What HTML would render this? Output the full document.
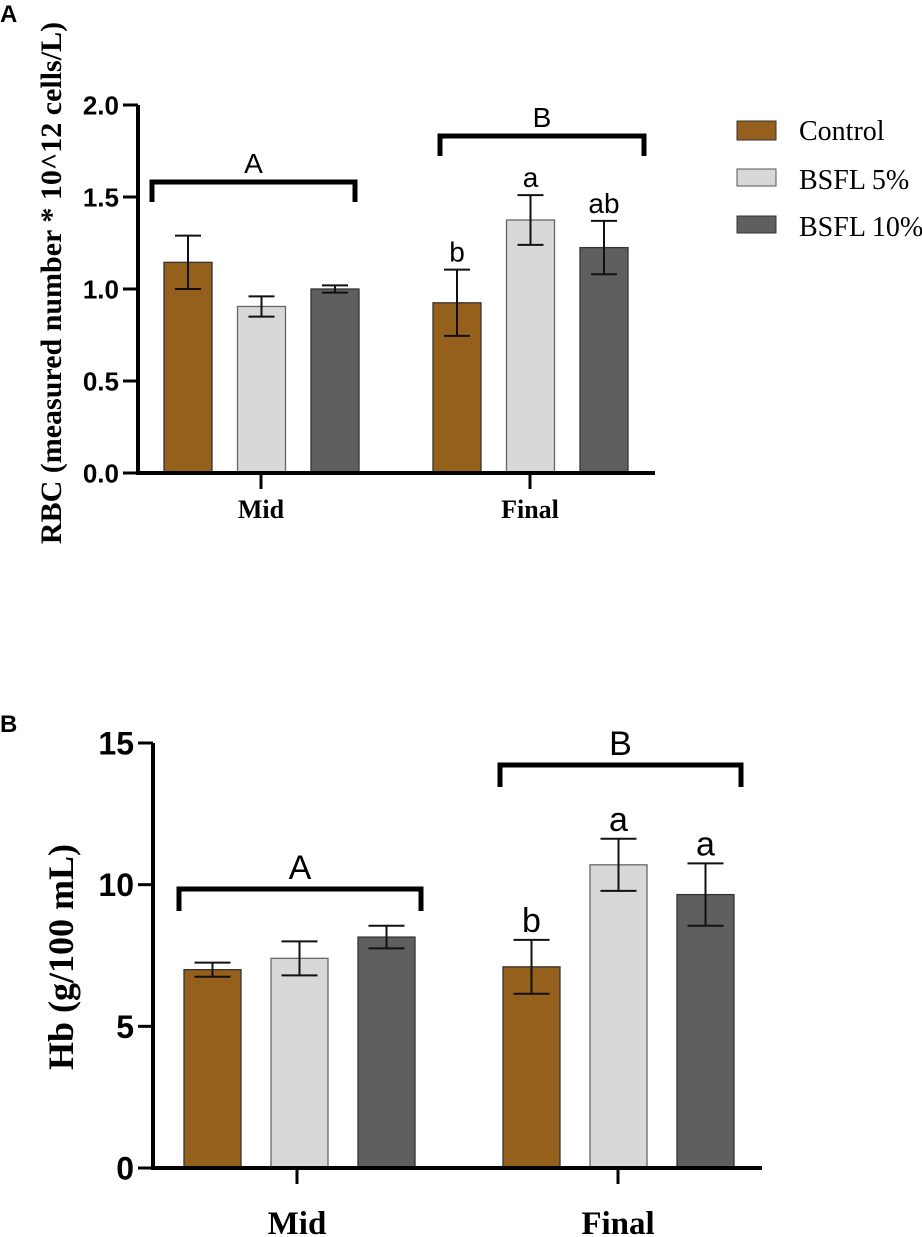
<!DOCTYPE html>
<html><head><meta charset="utf-8">
<style>
html,body{margin:0;padding:0;background:#fff;}
svg{display:block;}
.sans{font-family:"Liberation Sans",Arial,sans-serif;}
.serif{font-family:"Liberation Serif","Times New Roman",serif;}
</style></head>
<body>
<svg id="fig" width="922" height="1237" viewBox="0 0 922 1237" xmlns="http://www.w3.org/2000/svg">
<text x="0" y="22" class="sans" font-size="24" font-weight="bold">A</text>
<text x="0" y="732" class="sans" font-size="24" font-weight="bold">B</text>
<g id="legend">
 <g><rect x="737" y="121" width="39" height="19" fill="#94601c" stroke="#333" stroke-width="1"/><text x="799" y="140" class="serif" font-size="28">Control</text></g>
 <g><rect x="737" y="169" width="39" height="17" fill="#d8d8d8" stroke="#555" stroke-width="1"/><text x="799" y="189" class="serif" font-size="28">BSFL 5%</text></g>
 <g><rect x="737" y="216" width="39" height="17" fill="#5f5f5f" stroke="#333" stroke-width="1"/><text x="799" y="236" class="serif" font-size="28">BSFL 10%</text></g>
</g>
<g id="chartA"></g>
<g id="chartB"></g>
</svg>
<script>
// Panel A data
const categories = ["Mid", "Final"];
const seriesNames = ["Control", "BSFL 5%", "BSFL 10%"];
const rbcMeans = [[1.145, 0.905, 1.0], [0.925, 1.375, 1.225]];
const rbcErr = [[0.145, 0.055, 0.02], [0.18, 0.135, 0.145]];
const rbcLetters = [["", "", ""], ["b", "a", "ab"]];
const rbcTicks = [0, 0.5, 1.0, 1.5, 2.0];
const rbcTickLabels = ["0.0", "0.5", "1.0", "1.5", "2.0"];
const rbcGroupLetters = ["A", "B"];
// Panel B data
const hbMeans = [[7.0, 7.4, 8.15], [7.1, 10.7, 9.65]];
const hbErr = [[0.25, 0.6, 0.4], [0.95, 0.92, 1.1]];
const hbLetters = [["", "", ""], ["b", "a", "a"]];
const hbTicks = [0, 5, 10, 15];
const hbTickLabels = ["0", "5", "10", "15"];
const hbGroupLetters = ["A", "B"];

const NS = "http://www.w3.org/2000/svg";
const fills = ["#94601c", "#d8d8d8", "#5f5f5f"];
const strokes = ["#333", "#666", "#333"];
function mk(parent, tag, attrs, text) {
  const e = document.createElementNS(NS, tag);
  for (const k in attrs) e.setAttribute(k, attrs[k]);
  if (text !== undefined) e.textContent = text;
  parent.appendChild(e);
  return e;
}
function draw(g, cfg, means, errs, letters, ticks, tickLabels, groupLetters) {
  const y = v => cfg.y0 - (v - cfg.ymin) / (cfg.ymax - cfg.ymin) * (cfg.y0 - cfg.yTop);
  means.forEach((grp, gi) => {
    grp.forEach((v, si) => {
      const x = cfg.groupX[gi] + si * cfg.step;
      const r = mk(g, "rect", {x: x, y: y(v), width: cfg.bw, height: cfg.y0 - y(v), fill: fills[si], stroke: strokes[si], "stroke-width": 1.3});
      
      
      const cx = x + cfg.bw / 2, e = errs[gi][si];
      const eb = mk(g, "path", {d: `M${cx - cfg.cap} ${y(v + e)}H${cx + cfg.cap}M${cx} ${y(v + e)}V${y(v - e)}M${cx - cfg.cap} ${y(v - e)}H${cx + cfg.cap}`, stroke: "#111", "stroke-width": 2, fill: "none"});
      
      
      if (letters[gi][si]) {
        const t = mk(g, "text", {x: cx, y: y(v + e) - 8, "text-anchor": "middle", class: "sans", "font-size": cfg.letterSize}, letters[gi][si]);
        
        
      }
    });
    const bx1 = cfg.brX[gi][0], bx2 = cfg.brX[gi][1], by = cfg.brY[gi];
    const br = mk(g, "path", {d: `M${bx1} ${by + cfg.brLeg}V${by}H${bx2}V${by + cfg.brLeg}`, stroke: "#000", "stroke-width": 5, fill: "none"});
    
    
    const gt = mk(g, "text", {x: (bx1 + bx2) / 2, y: by - cfg.brLetterGap, "text-anchor": "middle", class: "sans", "font-size": cfg.letterSize}, groupLetters[gi]);
    
    
    const tx = cfg.catX[gi];
    const ct = mk(g, "line", {x1: tx, x2: tx, y1: cfg.y0, y2: cfg.y0 + 16, stroke: "#000", "stroke-width": 3});
    
    
    const cl = mk(g, "text", {x: tx, y: cfg.y0 + cfg.catDy, "text-anchor": "middle", class: "serif", "font-size": cfg.catSize, "font-weight": "bold"}, categories[gi]);
    
    
  });
  const ax = mk(g, "path", {d: `M${cfg.ax} ${cfg.yTop}V${cfg.y0}H${cfg.axEnd}`, stroke: "#000", "stroke-width": 4, fill: "none"});
  
  
  ticks.forEach((t, i) => {
    const l = mk(g, "line", {x1: cfg.ax - 15, x2: cfg.ax, y1: y(t), y2: y(t), stroke: "#000", "stroke-width": 3});
    
    
    const tl = mk(g, "text", {x: cfg.ax - 19, y: y(t) + cfg.tickSize * 0.36, "text-anchor": "end", class: "sans", "font-size": cfg.tickSize, "font-weight": "bold"}, tickLabels[i]);
    
    
  });
  const yt = mk(g, "text", {x: 0, y: 0, transform: `translate(${cfg.titleX},${cfg.titleY}) rotate(-90)`, "text-anchor": "middle", class: "serif", "font-size": cfg.titleSize, "font-weight": "bold"}, cfg.title);
  
  
}
draw(document.getElementById("chartA"), {
  ymin: 0, ymax: 2, y0: 473, yTop: 105, ax: 138, axEnd: 655,
  groupX: [164, 433], step: 73.5, bw: 48, cap: 13,
  brX: [[152, 355], [440, 644]], brY: [182, 136], brLeg: 20, brLetterGap: 9,
  catX: [261, 530], catDy: 45, catSize: 26, tickSize: 26, letterSize: 28,
  title: "RBC (measured number * 10^12 cells/L)", titleX: 61, titleY: 283, titleSize: 30
}, rbcMeans, rbcErr, rbcLetters, rbcTicks, rbcTickLabels, rbcGroupLetters);
draw(document.getElementById("chartB"), {
  ymin: 0, ymax: 15, y0: 1168, yTop: 743, ax: 153, axEnd: 762,
  groupX: [184, 503], step: 87, bw: 57, cap: 18,
  brX: [[179, 421], [500, 741]], brY: [889, 765], brLeg: 22, brLetterGap: 10,
  catX: [297, 618], catDy: 66, catSize: 33, tickSize: 32, letterSize: 34,
  title: "Hb (g/100 mL)", titleX: 73, titleY: 957, titleSize: 36
}, hbMeans, hbErr, hbLetters, hbTicks, hbTickLabels, hbGroupLetters);
</script>
</body></html>
